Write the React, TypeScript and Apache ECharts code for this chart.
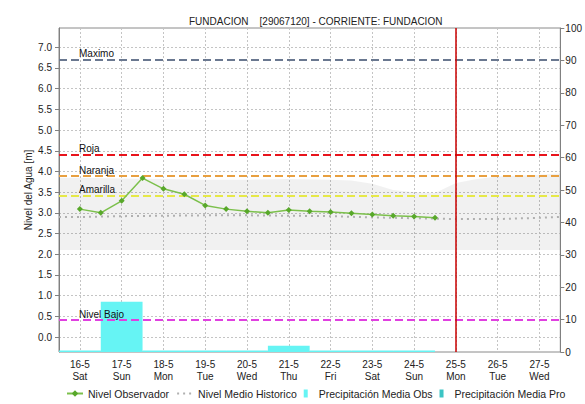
import React, { useEffect, useRef } from "react";
import * as echarts from "echarts";

const dayTicks = [16, 17, 18, 19, 20, 21, 22, 23, 24, 25, 26, 27];
const dayLabels = ["16-5\nSat", "17-5\nSun", "18-5\nMon", "19-5\nTue", "20-5\nWed", "21-5\nThu", "22-5\nFri", "23-5\nSat", "24-5\nSun", "25-5\nMon", "26-5\nTue", "27-5\nWed"];

const obsTimes = [16, 16.5, 17, 17.5, 18, 18.5, 19, 19.5, 20, 20.5, 21, 21.5, 22, 22.5, 23, 23.5, 24, 24.5];
const obsLevels = [3.09, 3.0, 3.29, 3.84, 3.58, 3.45, 3.18, 3.09, 3.04, 3.0, 3.07, 3.04, 3.02, 2.99, 2.96, 2.93, 2.91, 2.88];

const histTimes = [15.5, 16, 17, 18, 19, 20, 21, 22, 23, 24, 25, 26, 27, 27.5];
const histLevels = [2.9, 2.9, 2.92, 2.93, 2.94, 2.94, 2.93, 2.92, 2.89, 2.87, 2.85, 2.85, 2.88, 2.9];

const bandTimes = [15.5, 16, 17, 18, 19, 20, 21, 22, 22.5, 23, 23.5, 24, 24.5, 25, 25.5, 26, 27, 27.5];
const bandHigh = [3.85, 3.85, 3.83, 3.82, 3.8, 3.8, 3.82, 3.8, 3.78, 3.7, 3.55, 3.5, 3.48, 3.72, 3.82, 3.88, 3.92, 3.95];
const bandLow = [2.1, 2.1, 2.1, 2.1, 2.1, 2.1, 2.1, 2.1, 2.1, 2.1, 2.1, 2.1, 2.1, 2.1, 2.1, 2.1, 2.1, 2.1];

const precipDays = [16, 17, 18, 19, 20, 21, 22, 23, 24];
const precipObs = [0.5, 15.5, 0.5, 0.5, 0.5, 1.9, 0.5, 0.5, 0.5];
const precipProDays: number[] = [];
const precipPro: number[] = [];

const thresholdNames = ["Maximo", "Roja", "Naranja", "Amarilla", "Nivel Bajo"];
const thresholdValues = [6.7, 4.4, 3.89, 3.41, 0.41];
const thresholdColors = ["#6a7890", "#e8141c", "#e8a040", "#e6e848", "#e040e0"];

const currentDay = 25;

const leftTicks = [0, 0.5, 1, 1.5, 2, 2.5, 3, 3.5, 4, 4.5, 5, 5.5, 6, 6.5, 7];

const FONT = "'Liberation Sans', Arial, sans-serif";

export default function App() {
  const ref = useRef<HTMLDivElement>(null);
  useEffect(() => {
    if (!ref.current) return;
    const chart = echarts.init(ref.current, null, { renderer: "svg" });
    const barIcon = "path://M0,0H6V12H0Z";
    const option: any = {
      animation: false,
      backgroundColor: "#ffffff",
      textStyle: { fontFamily: FONT },
      title: {
        text: "FUNDACION\u00a0\u00a0\u00a0\u00a0[29067120] - CORRIENTE: FUNDACION",
        left: 184,
        top: 11,
        textStyle: { fontSize: 10, fontWeight: "normal", color: "#222", fontFamily: FONT },
      },
      legend: {
        left: 66,
        top: 388,
        padding: 0,
        itemWidth: 16,
        itemHeight: 8,
        itemGap: 7,
        textStyle: { fontSize: 10.5, color: "#222", fontFamily: FONT },
        data: [
          { name: "Nivel Observador" },
          { name: "Nivel Medio Historico", itemStyle: { opacity: 0 } },
          { name: "Precipitación Media Obs", icon: barIcon },
          { name: "Precipitación Media Pro", icon: barIcon },
        ],
      },
      grid: {
        left: 59,
        right: 23,
        top: 28,
        bottom: 52,
        show: true,
        borderColor: "#8a8a8a",
        borderWidth: 1,
      },
      xAxis: {
        type: "value",
        min: 15.5,
        max: 27.5,
        axisLine: { show: false },
        axisTick: { show: false, customValues: dayTicks },
        axisLabel: {
          customValues: dayTicks,
          formatter: (v: number) => dayLabels[dayTicks.indexOf(Math.round(v))] || "",
          fontSize: 10,
          color: "#222",
          margin: 6,
          lineHeight: 12,
        },
        splitLine: { show: true, lineStyle: { color: "#c4c4c4", type: [2, 2], width: 1 } },
      },
      yAxis: [
        {
          type: "value",
          position: "left",
          min: -0.362,
          max: 7.466,
          name: "Nivel del Agua [m]",
          nameLocation: "middle",
          nameGap: 26,
          nameMoveOverlap: false,
          nameTextStyle: { fontSize: 10, color: "#222" },
          axisLine: { show: true, lineStyle: { color: "#808080" } },
          axisTick: { show: true, length: 4, customValues: leftTicks, lineStyle: { color: "#808080" } },
          axisLabel: {
            customValues: leftTicks,
            formatter: (v: number) => v.toFixed(1),
            fontSize: 10,
            color: "#222",
            margin: 7,
          },
          splitLine: { show: true, lineStyle: { color: "#c4c4c4", type: [2, 2], width: 1 } },
        },
        {
          type: "value",
          position: "right",
          min: 0,
          max: 100,
          interval: 10,
          axisLine: { show: true, lineStyle: { color: "#808080" } },
          axisTick: { show: true, length: 4, lineStyle: { color: "#808080" } },
          axisLabel: { fontSize: 10, color: "#222", margin: 5 },
          splitLine: { show: false },
        },
      ],
      series: [
        {
          type: "custom",
          name: "band",
          xAxisIndex: 0,
          yAxisIndex: 0,
          silent: true,
          data: [[bandTimes[0], bandLow[0]]],
          renderItem: (_params: any, api: any) => {
            const pts: number[][] = [];
            bandTimes.forEach((t, i) => pts.push(api.coord([t, bandHigh[i]])));
            for (let i = bandTimes.length - 1; i >= 0; i--) pts.push(api.coord([bandTimes[i], bandLow[i]]));
            return { type: "polygon", shape: { points: pts }, style: { fill: "rgba(0,0,0,0.055)" } };
          },
          z: 1,
        },
        {
          type: "custom",
          name: "Precipitación Media Obs",
          xAxisIndex: 0,
          yAxisIndex: 1,
          itemStyle: { color: "#66f4f4" },
          encode: { x: 0, y: 1 },
          data: precipDays.map((d, i) => [d, precipObs[i]]),
          renderItem: (_params: any, api: any) => {
            const d = api.value(0);
            const v = api.value(1);
            const p0 = api.coord([d - 0.5, v]);
            const p1 = api.coord([d + 0.5, 0]);
            return {
              type: "rect",
              shape: { x: p0[0], y: p0[1], width: p1[0] - p0[0], height: p1[1] - p0[1] },
              style: { fill: "#66f4f4" },
            };
          },
          z: 3,
        },
        {
          type: "custom",
          name: "Precipitación Media Pro",
          xAxisIndex: 0,
          yAxisIndex: 1,
          itemStyle: { color: "#3cc4c4" },
          encode: { x: 0, y: 1 },
          data: precipProDays.map((d, i) => [d, precipPro[i]]),
          renderItem: (_params: any, api: any) => {
            const d = api.value(0);
            const v = api.value(1);
            const p0 = api.coord([d - 0.5, v]);
            const p1 = api.coord([d + 0.5, 0]);
            return {
              type: "rect",
              shape: { x: p0[0], y: p0[1], width: p1[0] - p0[0], height: p1[1] - p0[1] },
              style: { fill: "#3cc4c4" },
            };
          },
          z: 3,
        },
        {
          type: "line",
          name: "Nivel Medio Historico",
          xAxisIndex: 0,
          yAxisIndex: 0,
          symbol: "none",
          data: histTimes.map((t, i) => [t, histLevels[i]]),
          lineStyle: { color: "#b0b0b0", width: 2, type: [2, 4] },
          itemStyle: { color: "#b0b0b0" },
          z: 4,
        },
        {
          type: "line",
          name: "Nivel Observador",
          xAxisIndex: 0,
          yAxisIndex: 0,
          symbol: "diamond",
          symbolSize: 6,
          data: obsTimes.map((t, i) => [t, obsLevels[i]]),
          lineStyle: { color: "#7cc04c", width: 1.5 },
          itemStyle: { color: "#58a82a" },
          z: 6,
          markLine: {
            silent: true,
            symbol: ["none", "none"],
            animation: false,
            data: [
              ...thresholdValues.map((v, i) => ({
                yAxis: v,
                lineStyle: { color: thresholdColors[i], type: [8, 4], width: 2 },
                label: {
                  show: true,
                  formatter: thresholdNames[i],
                  position: "insideStartTop",
                  distance: [20, 1],
                  color: "#111",
                  fontSize: 10,
                  fontFamily: FONT,
                },
              })),
              {
                xAxis: currentDay,
                lineStyle: { color: "#c80000", type: "solid", width: 1.5 },
                label: { show: false },
              },
            ],
          },
        },
      ],
    };
    chart.setOption(option);
    return () => chart.dispose();
  }, []);
  return <div ref={ref} style={{ position: "fixed", left: 0, top: 0, width: 585, height: 404 }} />;
}
